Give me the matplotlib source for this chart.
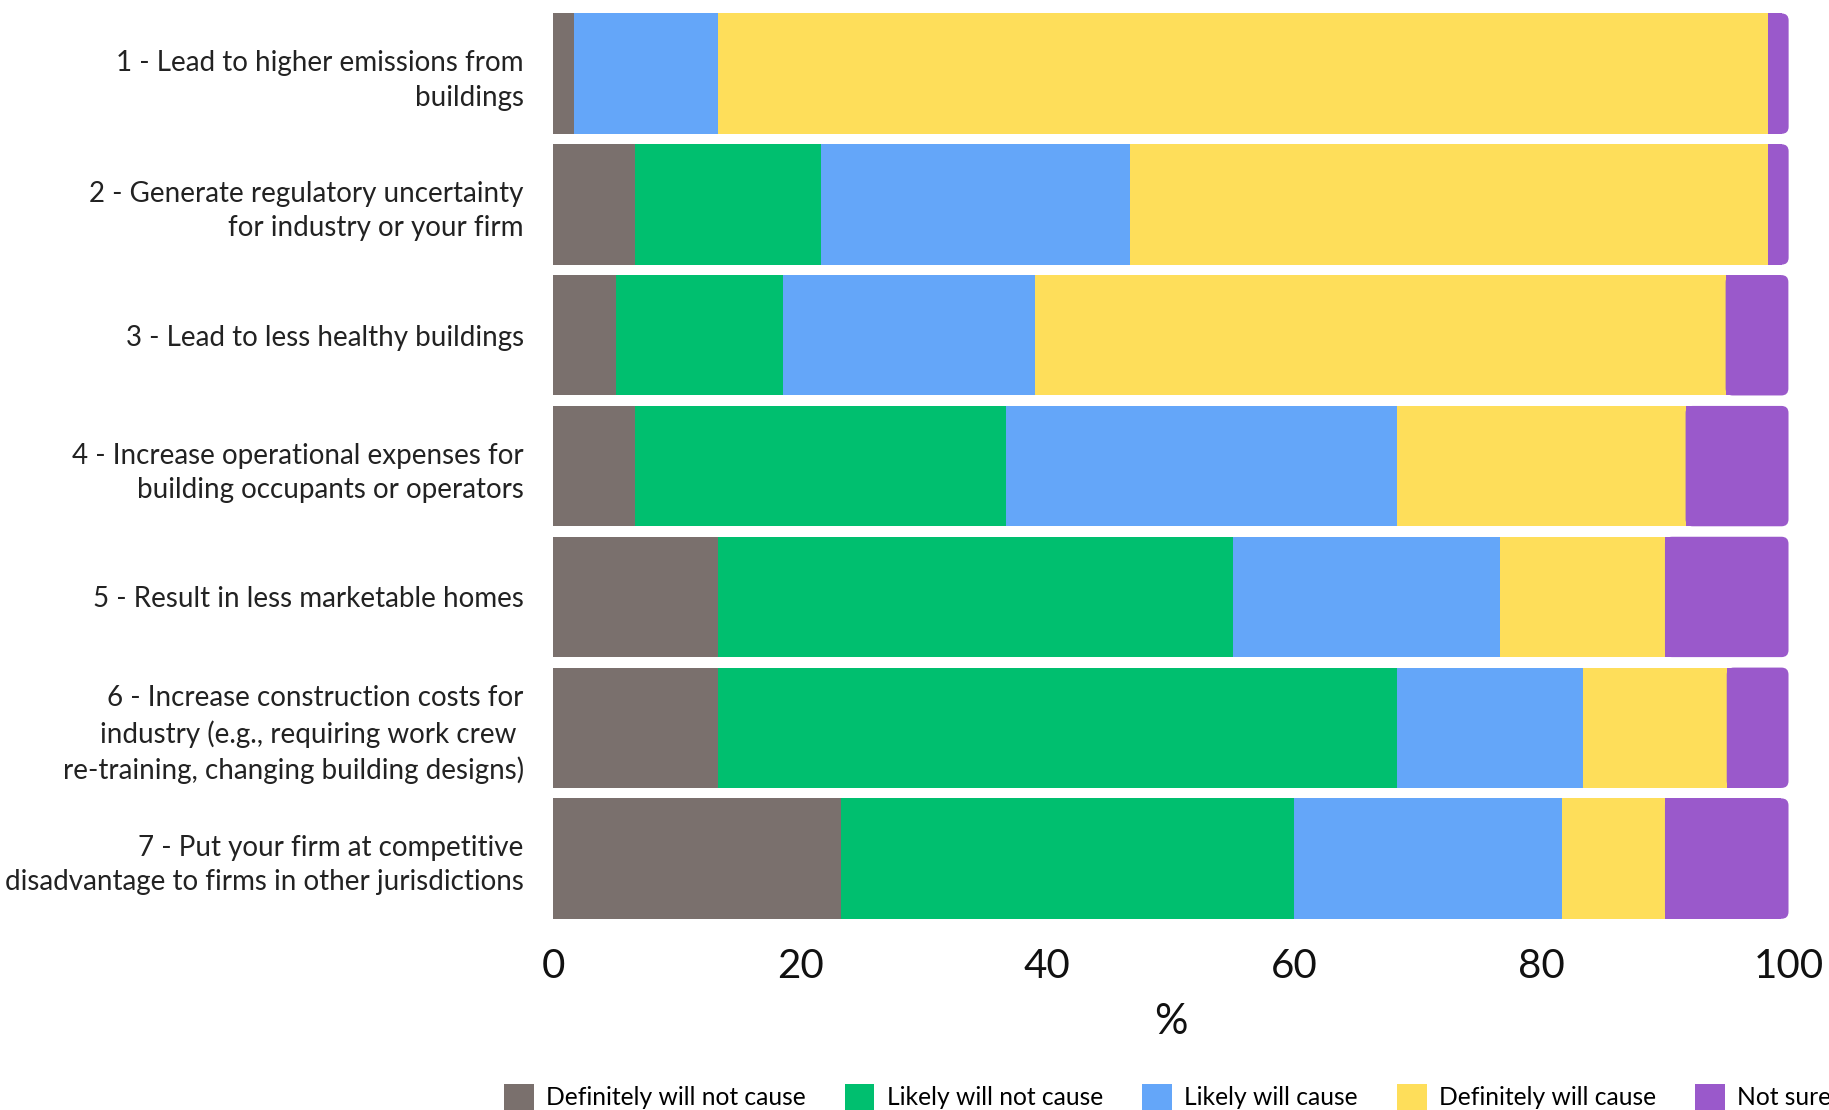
import matplotlib
matplotlib.use('Agg')
import matplotlib.pyplot as plt
from matplotlib.patches import FancyBboxPatch
import numpy as np

plt.rcParams['font.family'] = ['Lato', 'DejaVu Sans']

# Данные (доли ответов, %)
questions = [
    '1 - Lead to higher emissions from\nbuildings',
    '2 - Generate regulatory uncertainty\nfor industry or your firm',
    '3 - Lead to less healthy buildings',
    '4 - Increase operational expenses for\nbuilding occupants or operators',
    '5 - Result in less marketable homes',
    '6 - Increase construction costs for\nindustry (e.g., requiring work crew \nre-training, changing building designs)',
    '7 - Put your firm at competitive\ndisadvantage to firms in other jurisdictions',
]
answers = ['Definitely will not cause', 'Likely will not cause', 'Likely will cause',
           'Definitely will cause', 'Not sure']
definitely_not = [1.67, 6.67, 5.08, 6.67, 13.33, 13.33, 23.33]
likely_not = [0.0, 15.0, 13.56, 30.0, 41.67, 55.0, 36.67]
likely = [11.67, 25.0, 20.34, 31.67, 21.67, 15.0, 21.67]
definitely = [85.0, 51.67, 55.93, 23.33, 13.33, 11.67, 8.33]
not_sure = [1.67, 1.67, 5.08, 8.33, 10.0, 5.0, 10.0]
x_ticks = [0, 20, 40, 60, 80, 100]

colors = ['#7A706D', '#00BF6F', '#64A6F9', '#FEDE5A', '#9A59CB']

fig = plt.figure(figsize=(18.29, 11.10), dpi=100)
ax = fig.add_axes([0.30235, 0.16757, 0.67551, 0.82503])

y = np.arange(len(questions))
h = 0.92
r = 0.57  # радиус скругления в единицах оси x

series = [definitely_not, likely_not, likely, definitely, not_sure]
left = np.zeros(len(questions))
handles = []
for k, (vals, c) in enumerate(zip(series, colors)):
    vals = np.array(vals)
    if k == len(series) - 1:
        # последний сегмент со скруглёнными правыми углами
        for i in range(len(y)):
            ax.add_patch(FancyBboxPatch((left[i], y[i] - h / 2), vals[i], h,
                                        boxstyle='round,pad=0,rounding_size=%f' % r,
                                        mutation_aspect=12.355 / 131.3,
                                        facecolor=c, edgecolor='none'))
        b = ax.barh(y, vals - r, left=left, height=h, color=c, label=answers[k])
    else:
        b = ax.barh(y, vals, left=left, height=h, color=c, label=answers[k])
    handles.append(b)
    left += vals

ax.set_xlim(0, 100)
ax.set_ylim(6.5, -0.5)
ax.set_yticks(y)
ax.set_yticklabels(questions, fontsize=20, color='#222222', linespacing=1.4, ha='right')
ax.set_xticks(x_ticks)
ax.set_xticklabels([str(t) for t in x_ticks], fontsize=29, color='#111111')
ax.tick_params(axis='y', length=0, pad=21)
ax.tick_params(axis='x', length=0, pad=17)
ax.set_xlabel('%', fontsize=30, color='#111111', labelpad=13)
for s in ax.spines.values():
    s.set_visible(False)

fig.legend(handles=handles, labels=answers, loc='center left',
           bbox_to_anchor=(504 / 1829, 1 - 1097 / 1110), ncol=5, frameon=False,
           fontsize=17.7, handlelength=1.2, handleheight=1.2, handletextpad=0.5,
           columnspacing=1.6, borderpad=0, borderaxespad=0)

fig.savefig('out.png', dpi=100)
